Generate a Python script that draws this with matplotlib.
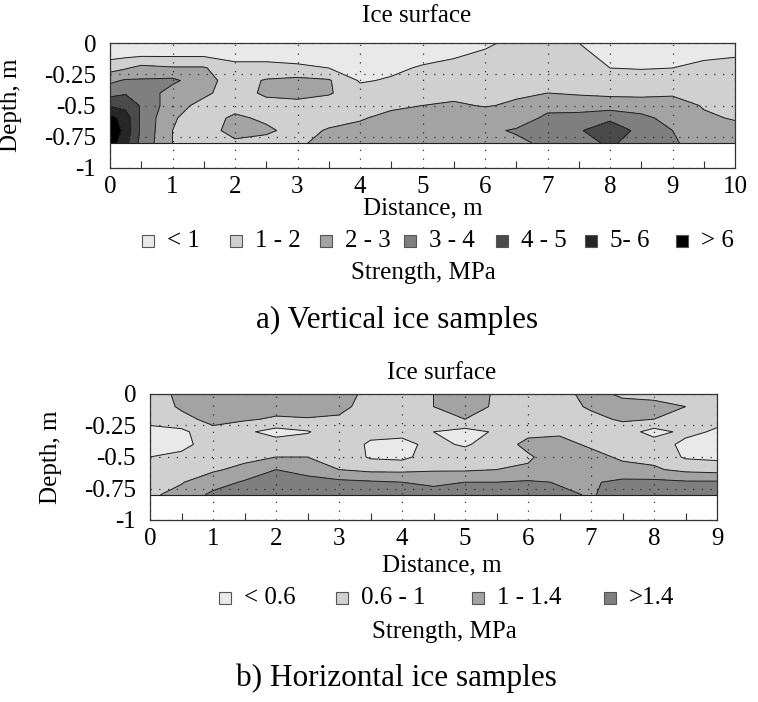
#!/usr/bin/env python3
"""Ice strength contour maps: vertical and horizontal ice samples."""

import numpy as np
import matplotlib
matplotlib.use("Agg")
import matplotlib.pyplot as plt
from matplotlib.patches import Rectangle

plt.rcParams['font.family'] = ['Liberation Serif', 'DejaVu Serif']
plt.rcParams['font.size'] = 18

# ---- a) vertical ice samples: strength (MPa) on a grid ----
DIST_A = [0, 0.25, 0.5, 1, 1.5, 2, 2.5, 3, 3.5, 4, 4.5, 5, 5.5, 6, 6.5, 7, 7.5,
          8, 8.5, 9, 9.5, 10]
DEPTH = [0, -0.1, -0.2, -0.3, -0.4, -0.5, -0.6, -0.7, -0.8]
# one column per distance, values listed from surface downwards
STRENGTH_A_COLS = [
    [0.5, 0.7, 1.6, 2.8, 3.6, 4.9, 6.4, 7.0, 6.6],   # 0
    [0.5, 0.8, 1.9, 3.1, 3.9, 4.7, 5.5, 5.6, 5.3],   # 0.25
    [0.5, 0.9, 2.3, 3.1, 3.6, 3.9, 3.8, 3.8, 3.7],   # 0.5
    [0.5, 0.9, 2.1, 3.2, 2.6, 2.4, 2.1, 2.0, 2.0],   # 1
    [0.5, 0.9, 2.1, 2.4, 2.2, 1.7, 1.5, 1.5, 1.4],   # 1.5
    [0.4, 0.8, 1.2, 1.5, 1.5, 1.6, 2.2, 2.4, 1.8],   # 2
    [0.4, 0.8, 1.2, 2.1, 2.2, 1.6, 1.8, 2.2, 1.6],   # 2.5
    [0.4, 0.8, 1.1, 2.3, 2.3, 1.7, 1.5, 1.6, 1.9],   # 3
    [0.4, 0.7, 1.0, 2.1, 2.1, 1.5, 1.6, 2.1, 2.2],   # 3.5
    [0.3, 0.5, 0.8, 0.9, 1.4, 1.7, 1.9, 2.3, 2.3],   # 4
    [0.3, 0.5, 0.8, 1.1, 1.5, 1.8, 2.3, 2.5, 2.3],   # 4.5
    [0.4, 0.7, 1.1, 1.4, 1.7, 2.0, 2.5, 2.6, 2.3],   # 5
    [0.5, 0.9, 1.3, 1.5, 1.8, 2.1, 2.5, 2.6, 2.3],   # 5.5
    [0.8, 1.2, 1.4, 1.5, 1.7, 1.95, 2.4, 2.8, 2.5],  # 6
    [1.3, 1.4, 1.5, 1.7, 1.9, 2.1, 2.5, 3.1, 2.8],   # 6.5
    [1.4, 1.5, 1.6, 1.8, 2.0, 2.7, 3.2, 3.4, 3.2],   # 7
    [1.0, 1.3, 1.5, 1.7, 1.9, 2.5, 3.4, 3.9, 3.5],   # 7.5
    [0.5, 0.7, 1.0, 1.4, 1.8, 2.5, 3.8, 4.6, 4.2],   # 8
    [0.5, 0.7, 0.95, 1.4, 1.8, 2.4, 3.3, 3.7, 3.4],  # 8.5
    [0.5, 0.7, 1.0, 1.5, 1.9, 2.3, 2.6, 3.0, 3.2],   # 9
    [0.5, 0.8, 1.3, 1.6, 1.8, 1.95, 2.1, 2.4, 2.3],  # 9.5
    [0.6, 0.95, 1.3, 1.5, 1.7, 1.8, 1.95, 2.2, 2.1], # 10
]
LEVELS_A = [0, 1, 2, 3, 4, 5, 6, 10]
COLORS_A = ['#e9e9e9', '#d0d0d0', '#a3a3a3', '#7f7f7f', '#4a4a4a', '#262626', '#000000']
LABELS_A = ['< 1', '1 - 2', '2 - 3', '3 - 4', '4 - 5', '5- 6', '> 6']
XTICKS_A = [0, 1, 2, 3, 4, 5, 6, 7, 8, 9, 10]

# ---- b) horizontal ice samples ----
DIST_B = [0, 0.5, 1, 1.5, 2, 2.5, 3, 3.5, 4, 4.5, 5, 5.5, 6, 6.5, 7, 7.5, 8, 8.5, 9]
STRENGTH_B_COLS = [
    [0.8, 0.8, 0.7, 0.5, 0.45, 0.6, 0.8, 0.9, 0.95],   # 0
    [1.1, 1.05, 0.9, 0.5, 0.48, 0.7, 0.85, 0.98, 1.1], # 0.5
    [1.2, 1.2, 1.1, 0.9, 0.8, 0.85, 0.95, 1.2, 1.5],   # 1
    [1.25, 1.2, 1.05, 0.68, 0.75, 0.9, 1.1, 1.45, 1.6],# 1.5
    [1.2, 1.15, 0.95, 0.45, 0.8, 1.0, 1.4, 1.6, 1.6],  # 2
    [1.2, 1.15, 0.98, 0.57, 0.8, 1.0, 1.3, 1.5, 1.55], # 2.5
    [1.15, 1.1, 0.95, 0.85, 0.8, 0.9, 1.0, 1.5, 1.5],  # 3
    [0.9, 0.85, 0.8, 0.7, 0.55, 0.55, 0.9, 1.45, 1.5], # 3.5
    [0.9, 0.85, 0.8, 0.7, 0.5, 0.5, 0.9, 1.4, 1.5],    # 4
    [1.0, 1.0, 0.9, 0.6, 0.7, 0.8, 0.95, 1.35, 1.5],   # 4.5
    [1.2, 1.15, 1.0, 0.45, 0.55, 0.8, 0.95, 1.4, 1.5], # 5
    [0.95, 0.95, 0.85, 0.65, 0.8, 0.9, 1.0, 1.4, 1.5], # 5.5
    [0.9, 0.85, 0.8, 0.9, 1.1, 0.95, 1.05, 1.45, 1.5], # 6
    [0.9, 0.85, 0.85, 0.95, 1.1, 1.2, 1.3, 1.38, 1.45],# 6.5
    [1.1, 1.05, 0.9, 0.85, 0.95, 1.1, 1.25, 1.35, 1.38],# 7
    [0.95, 1.1, 1.05, 0.8, 0.85, 0.95, 1.1, 1.5, 1.5], # 7.5
    [0.9, 1.1, 1.0, 0.45, 0.8, 0.9, 1.05, 1.5, 1.5],   # 8
    [0.9, 1.0, 0.85, 0.7, 0.5, 0.55, 0.9, 1.45, 1.5],  # 8.5
    [0.8, 0.8, 0.7, 0.55, 0.5, 0.5, 0.85, 1.45, 1.5],  # 9
]
LEVELS_B = [0, 0.6, 1.0, 1.4, 3]
COLORS_B = ['#e9e9e9', '#d0d0d0', '#a3a3a3', '#7f7f7f']
LABELS_B = ['< 0.6', '0.6 - 1', '1 - 1.4', '>1.4']
XTICKS_B = [0, 1, 2, 3, 4, 5, 6, 7, 8, 9]

Y_TICKS = [0, -0.25, -0.5, -0.75, -1]
Y_TICKLABELS = ['0', '-0.25', '-0.5', '-0.75', '-1']

W, H = 758, 702
LINE = '#333333'


def draw_panel(ax, dist, cols, levels, colors, xticks):
    z = np.array(cols).T
    ax.contourf(dist, DEPTH, z, levels=levels, colors=colors)
    ax.contour(dist, DEPTH, z, levels=levels[1:-1], colors='#202020',
               linewidths=0.7)
    # outline of the sampled bottom edge
    ax.plot([dist[0], dist[-1]], [DEPTH[-1], DEPTH[-1]], color='#202020',
            linewidth=0.8)
    ax.set_xlim(xticks[0], xticks[-1])
    ax.set_ylim(-1, 0)
    ax.set_xticks(xticks)
    ax.set_xticks([t + 0.5 for t in xticks[:-1]], minor=True)
    ax.set_xticklabels([str(t) for t in xticks])
    ax.set_yticks(Y_TICKS)
    ax.set_yticklabels(Y_TICKLABELS)
    ax.tick_params(axis='both', which='major', length=0, pad=6)
    ax.tick_params(axis='y', pad=10)
    ax.tick_params(axis='x', which='minor', direction='in', length=5,
                   width=0.8, color=LINE)
    ax.grid(True, which='major', color=LINE, linestyle=(0, (1, 6)),
            linewidth=0.9)
    ax.set_axisbelow(False)
    for sp in ax.spines.values():
        sp.set_color(LINE)
        sp.set_linewidth(0.9)
    ax.set_ylabel('Depth, m', labelpad=2)


def draw_legend(fig, xs, y, colors, labels):
    s = 12
    for x, c, lab in zip(xs, colors, labels):
        fig.patches.append(Rectangle(((x - s / 2) / W, 1 - (y + s / 2) / H),
                                     s / W, s / H, transform=fig.transFigure,
                                     facecolor=c, edgecolor='#555555',
                                     linewidth=0.8))
        fig.text((x + 19) / W, 1 - y / H, lab, ha='left', va='center',
                 fontsize=18)


fig = plt.figure(figsize=(W / 100, H / 100), dpi=100)
fig.patch.set_facecolor('white')

ax1 = fig.add_axes([110 / W, 1 - 168 / H, 625 / W, 125 / H])
draw_panel(ax1, DIST_A, STRENGTH_A_COLS, LEVELS_A, COLORS_A, XTICKS_A)
ax1.yaxis.set_label_coords(-0.14, 0.5)

ax2 = fig.add_axes([150 / W, 1 - 520 / H, 567 / W, 126 / H])
draw_panel(ax2, DIST_B, STRENGTH_B_COLS, LEVELS_B, COLORS_B, XTICKS_B)
ax2.yaxis.set_label_coords(-0.155, 0.5)

# top panel texts
fig.text(417 / W, 1 - 16 / H, 'Ice surface', ha='center', va='center')
fig.text(423 / W, 1 - 208 / H, 'Distance, m', ha='center', va='center')
draw_legend(fig, [148, 236, 326, 410, 502, 591, 682], 241, COLORS_A, LABELS_A)
fig.text(423 / W, 1 - 273 / H, 'Strength, MPa', ha='center', va='center')
fig.text(397 / W, 1 - 320 / H, 'a) Vertical ice samples', ha='center',
         va='center', fontsize=22.5)

# bottom panel texts
fig.text(442 / W, 1 - 373 / H, 'Ice surface', ha='center', va='center')
fig.text(442 / W, 1 - 565 / H, 'Distance, m', ha='center', va='center')
draw_legend(fig, [225, 342, 478, 610], 598, COLORS_B, LABELS_B)
fig.text(444 / W, 1 - 632 / H, 'Strength, MPa', ha='center', va='center')
fig.text(396 / W, 1 - 678 / H, 'b) Horizontal ice samples', ha='center',
         va='center', fontsize=22.5)

fig.savefig('out.png', dpi=100, facecolor='white')
